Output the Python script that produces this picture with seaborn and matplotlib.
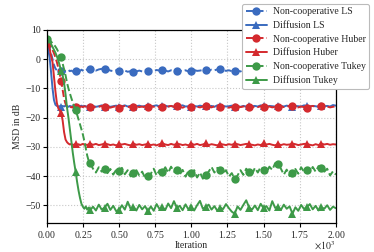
import matplotlib
matplotlib.use("Agg")
import matplotlib.pyplot as plt
import seaborn as sns
import numpy as np

# ---------------- data ----------------
iterations = list(range(0, 301, 10)) + list(range(320, 2001, 20))

nc_ls_trans = [5.0, 4.5, 3.5, 2.0, 0.0, -2.0, -3.2, -3.8, -4.0, -4.1, -3.9, -4.1, -3.8, -4.2, -4.0, -3.7,
               -4.1, -3.9, -4.2, -3.8, -4.0, -4.2, -3.8, -4.0, -3.6, -3.9, -4.2, -3.8, -3.5, -3.7, -3.4]
nc_ls_steady = [-3.6, -3.9, -3.5, -3.3, -3.2, -3.5, -3.9, -4.1, -3.8, -4.0, -4.2, -3.9, -4.3, -4.1, -4.4,
                -4.2, -3.9, -4.2, -3.8, -4.0, -3.8, -4.1, -3.7, -3.9, -3.6, -3.9, -4.2, -3.8, -4.1, -4.2,
                -3.9, -4.1, -3.8, -4.2, -4.0, -3.7, -4.0, -3.9, -3.7, -3.8, -3.9, -3.6, -3.8, -3.5, -3.4,
                -3.7, -4.0, -3.8, -4.1, -4.2, -3.9, -4.2, -3.8, -4.0, -3.9, -4.1, -3.8, -4.0, -4.2, -3.9,
                -3.8, -4.1, -3.9, -4.0, -4.2, -3.9, -3.7, -4.0, -4.1, -3.8, -4.0, -4.2, -3.9, -3.8, -4.1,
                -3.9, -4.0, -4.2, -3.8, -4.0, -4.1, -3.9, -4.0, -3.8, -4.0]

d_ls_trans = [4.5, 3.5, 0.5, -4.5, -10.0, -14.0, -15.6, -16.0, -16.2, -16.1, -16.3, -16.0, -16.2, -15.9,
              -16.1, -16.3, -16.0, -16.2, -16.1, -15.9, -16.2, -16.0, -16.3, -16.1, -15.9, -16.2, -16.0,
              -16.1, -16.3, -16.0, -16.2]
d_ls_steady = [-16.0, -16.3, -16.1, -15.8, -16.2, -16.0, -16.3, -16.1, -15.9, -16.2, -16.1, -15.8, -16.2,
               -16.0, -16.3, -16.1, -15.9, -16.2, -16.0, -16.1, -16.3, -16.0, -15.8, -16.2, -16.1, -15.9,
               -16.2, -16.0, -16.3, -16.1, -16.0, -15.8, -16.2, -16.1, -16.3, -16.0, -16.2, -15.9, -16.1,
               -16.0, -16.2, -16.0, -16.3, -15.8, -16.1, -16.0, -16.2, -16.1, -15.9, -16.2, -16.1, -16.3,
               -16.0, -16.2, -15.9, -16.1, -16.0, -16.2, -15.8, -16.1, -16.3, -16.0, -16.1, -16.2, -15.9,
               -16.0, -16.2, -15.9, -16.1, -16.3, -16.0, -16.1, -16.2, -15.8, -16.0, -16.2, -16.0, -16.1,
               -16.3, -15.9, -16.1, -16.0, -16.2, -15.7, -15.9]

nc_hub_trans = [6.0, 5.6, 5.0, 4.2, 3.2, 2.0, 0.6, -1.0, -3.0, -5.2, -7.4, -10.5, -13.5, -15.3, -16.1,
                -16.4, -16.2, -16.5, -16.3, -16.1, -16.4, -16.2, -16.5, -16.3, -16.2, -16.4, -16.1, -16.3,
                -16.5, -16.2, -16.4]
nc_hub_steady = [-16.2, -16.5, -16.3, -16.0, -16.4, -16.2, -16.6, -16.3, -16.1, -16.6, -16.3, -16.0, -16.4,
                 -16.2, -16.5, -16.1, -16.4, -16.2, -16.5, -16.3, -16.0, -16.3, -16.5, -16.2, -16.4, -16.5,
                 -16.2, -16.0, -16.3, -16.1, -16.4, -16.6, -16.2, -16.5, -16.5, -16.1, -16.3, -16.5, -16.2,
                 -16.0, -16.3, -16.5, -16.1, -16.4, -16.3, -16.2, -16.4, -16.6, -16.3, -16.5, -16.1, -16.4,
                 -16.2, -16.0, -16.2, -16.5, -16.2, -16.4, -16.1, -16.3, -16.4, -16.2, -16.5, -16.3, -16.5,
                 -16.1, -16.4, -16.2, -16.0, -16.1, -16.3, -16.5, -16.2, -16.4, -16.6, -16.2, -16.0, -16.3,
                 -16.1, -16.1, -16.4, -16.2, -16.5, -16.3, -16.1]

d_hub_trans = [6.0, 5.2, 3.5, 1.0, -1.0, -6.0, -11.0, -15.0, -16.8, -17.6, -18.4, -21.0, -25.0, -27.5,
               -28.4, -28.9, -29.2, -29.0, -29.4, -29.2, -29.0, -29.3, -29.1, -29.4, -29.2, -29.0, -29.3,
               -29.2, -29.4, -29.1, -28.9]
d_hub_steady = [-29.3, -29.0, -29.4, -29.2, -28.9, -29.1, -29.4, -29.2, -29.5, -29.1, -29.2, -29.0, -29.3,
                -29.5, -28.9, -29.3, -29.1, -29.4, -29.2, -29.0, -29.4, -29.2, -29.5, -29.1, -28.8, -29.2,
                -29.4, -29.0, -29.3, -29.0, -29.1, -29.4, -29.2, -29.5, -28.9, -29.3, -29.0, -29.4, -29.2,
                -28.8, -29.4, -29.1, -29.3, -29.5, -29.0, -29.2, -29.4, -29.1, -29.3, -28.9, -29.1, -29.4,
                -29.2, -29.0, -29.1, -29.3, -29.5, -29.2, -29.4, -28.8, -29.2, -29.0, -29.3, -29.5, -29.0,
                -29.4, -29.1, -29.3, -29.2, -28.9, -29.1, -29.4, -29.2, -29.0, -29.0, -29.3, -29.5, -29.1,
                -29.4, -28.9, -29.2, -29.0, -29.3, -29.1, -29.2]

nc_tuk_trans = [7.0, 6.8, 6.5, 6.0, 5.5, 5.0, 4.3, 3.5, 2.5, 1.5, 0.6, -1.5, -3.5, -5.5, -8.0, -10.0,
                -11.7, -13.3, -14.8, -16.2, -17.4, -19.0, -20.6, -22.3, -24.0, -25.8, -28.0, -30.5, -33.0,
                -34.8, -35.6]
nc_tuk_steady = [-37.5, -38.8, -37.0, -38.5, -37.5, -39.0, -37.6, -39.5, -37.9, -38.4, -37.2, -39.4, -38.0,
                 -40.1, -38.9, -38.0, -39.8, -38.5, -40.6, -40.0, -39.2, -37.5, -39.8, -38.0, -38.6, -37.0,
                 -38.9, -36.8, -38.5, -37.8, -39.5, -37.9, -40.2, -38.3, -39.1, -38.0, -40.5, -38.8, -40.9,
                 -39.7, -38.5, -36.9, -38.8, -37.2, -37.8, -39.0, -38.0, -40.2, -39.0, -41.0, -39.8, -38.0,
                 -39.6, -37.5, -38.6, -39.5, -37.2, -38.8, -36.9, -37.8, -38.9, -36.8, -37.9, -35.6, -35.8,
                 -37.5, -39.5, -37.8, -40.0, -38.9, -37.6, -39.2, -37.0, -38.6, -37.8, -38.8, -36.9, -38.5,
                 -36.6, -37.2, -38.5, -37.5, -39.8, -38.4, -39.5]

d_tuk_trans = [7.0, 6.6, 6.0, 5.2, 4.2, 3.2, 2.2, 1.0, -0.5, -2.2, -4.2, -5.5, -8.2, -12.0, -16.5, -20.0,
               -24.0, -28.0, -32.0, -35.5, -38.6, -42.0, -45.0, -47.5, -49.5, -50.5, -51.2, -50.4, -51.5,
               -50.8, -51.7]
d_tuk_steady = [-50.5, -51.8, -49.8, -51.5, -50.8, -49.5, -51.6, -50.2, -52.0, -51.7, -50.0, -51.5, -48.8,
                -51.2, -50.6, -51.8, -49.9, -51.4, -50.3, -52.1, -50.4, -51.9, -49.6, -51.3, -50.7, -51.6,
                -49.4, -51.0, -48.6, -50.9, -50.2, -51.7, -49.7, -51.4, -50.5, -51.8, -50.0, -48.5, -51.2,
                -50.6, -49.8, -51.5, -50.3, -51.9, -50.9, -51.3, -49.6, -51.0, -52.2, -52.9, -50.4, -51.6,
                -49.9, -48.3, -50.8, -51.5, -50.1, -51.7, -49.5, -51.0, -50.3, -51.8, -48.6, -50.9, -50.5,
                -51.6, -49.8, -51.2, -50.4, -52.9, -50.7, -51.9, -49.9, -51.3, -50.6, -49.6, -51.4, -50.2,
                -51.8, -50.7, -51.2, -50.0, -51.6, -50.5, -51.0]

labels = ["Non-cooperative LS", "Diffusion LS", "Non-cooperative Huber",
          "Diffusion Huber", "Non-cooperative Tukey", "Diffusion Tukey"]
series = [nc_ls_trans + nc_ls_steady, d_ls_trans + d_ls_steady,
          nc_hub_trans + nc_hub_steady, d_hub_trans + d_hub_steady,
          nc_tuk_trans + nc_tuk_steady, d_tuk_trans + d_tuk_steady]
x_ticks = [0, 250, 500, 750, 1000, 1250, 1500, 1750, 2000]
y_ticks = [-50, -40, -30, -20, -10, 0, 10]

# ---------------- style ----------------
sns.set_theme(style="whitegrid")
plt.rcParams["font.family"] = ["Liberation Serif", "DejaVu Serif"]
plt.rcParams["mathtext.fontset"] = "stix"

blue, red, green = "#3a6bbf", "#d42a2e", "#3d9a48"
colors = [blue, blue, red, red, green, green]
styles = ["--", "-", "--", "-", "--", "-"]
markers = ["o", "^", "o", "^", "o", "^"]

fig = plt.figure(figsize=(3.74, 2.52), dpi=100)
ax = fig.add_axes([0.125, 0.116, 0.773, 0.765])

mark_idx = [i for i, v in enumerate(iterations) if v % 100 == 0 and v < 2000]

for lab, y, c, ls, m in zip(labels, series, colors, styles, markers):
    sns.lineplot(x=iterations, y=y, ax=ax, color=c, linestyle=ls, marker=m,
                 markevery=mark_idx, markersize=6, markeredgewidth=0,
                 linewidth=1.4, label=lab, errorbar=None, sort=False)

ax.set_xlim(0, 2000)
ax.set_ylim(-56, 10)
ax.set_xticks(x_ticks)
ax.set_yticks(y_ticks)
ax.ticklabel_format(style="sci", axis="x", scilimits=(3, 3), useMathText=True)
ax.xaxis.get_offset_text().set_visible(False)
fig.text(0.897, 0.026, r"$\times10^{3}$", fontsize=7, ha="right", va="center")
ax.tick_params(axis="both", labelsize=7, length=3, width=0.8, direction="out",
               color="black", pad=1.5, bottom=True, left=True)
ax.set_xlabel("Iteration", fontsize=7, labelpad=0.5)
ax.set_ylabel("MSD in dB", fontsize=7, labelpad=2)
ax.grid(True, linestyle=":", color="#c8c8c8", linewidth=0.8)
for s in ax.spines.values():
    s.set_color("black")
    s.set_linewidth(0.9)

leg = ax.legend(loc="upper right", bbox_to_anchor=(0.987, 0.984),
                bbox_transform=fig.transFigure, fontsize=7, frameon=True,
                framealpha=1, edgecolor="#bbbbbb", fancybox=True,
                handlelength=2.2, handletextpad=0.6, labelspacing=0.48,
                borderpad=0.35, borderaxespad=0)
leg.get_frame().set_linewidth(0.8)

fig.savefig("out.png", dpi=100)
